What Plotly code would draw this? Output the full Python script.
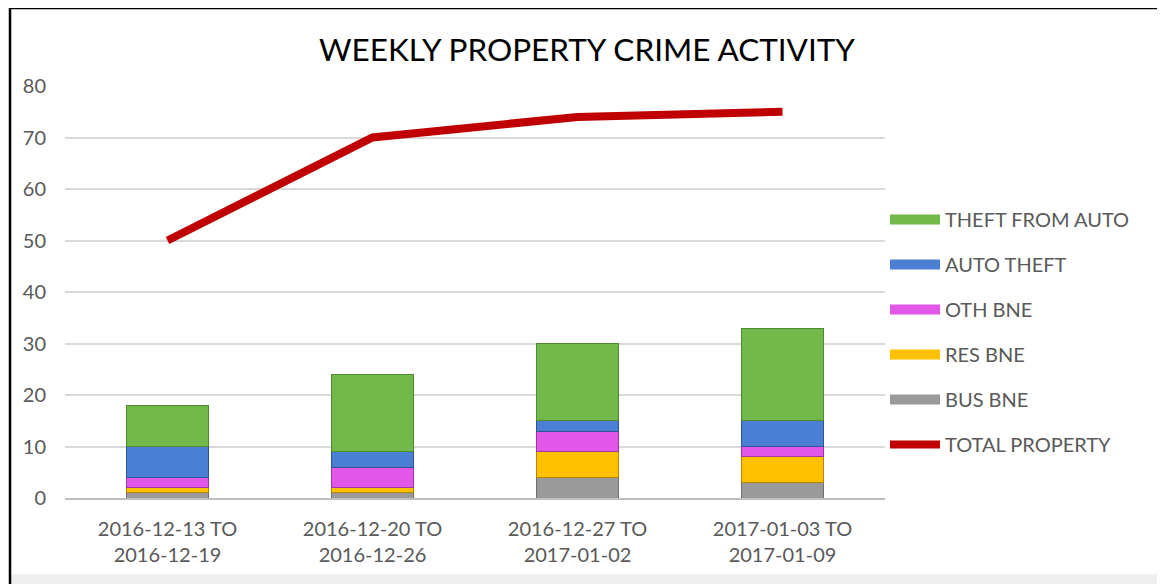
import plotly.graph_objects as go

categories = ["2016-12-13 TO<br>2016-12-19", "2016-12-20 TO<br>2016-12-26",
              "2016-12-27 TO<br>2017-01-02", "2017-01-03 TO<br>2017-01-09"]
bus_bne = [1, 1, 4, 3]
res_bne = [1, 1, 5, 5]
oth_bne = [2, 4, 4, 2]
auto_theft = [6, 3, 2, 5]
theft_from_auto = [8, 15, 15, 18]
total_property = [50, 70, 74, 75]

FONT = "Lato"
GRAY_TXT = "#595959"

# page body has an 8px margin, so the figure is drawn 8px smaller and offset
W, H = 1157, 576
L, R, T, B = 57, 280, 78, 86
PW, PH = W - L - R, H - T - B


def px(x):
    return (x - 8 - L) / PW


def py(y):
    return (H - B - (y - 8)) / PH


fig = go.Figure()
bars = [
    ("BUS BNE", bus_bne, "#9A9A9A", "#6E6E6E", 5),
    ("RES BNE", res_bne, "#FFC000", "#B38600", 4),
    ("OTH BNE", oth_bne, "#E257E8", "#9C3AA2", 3),
    ("AUTO THEFT", auto_theft, "#4A7FD4", "#2F5597", 2),
    ("THEFT FROM AUTO", theft_from_auto, "#72B84A", "#4E8A2E", 1),
]
for name, vals, col, edge, rank in bars:
    fig.add_trace(go.Bar(
        x=categories, y=vals, name=name,
        marker=dict(color=col, line=dict(color=edge, width=1)),
        showlegend=False, width=0.4,
    ))
for name, vals, col, edge, rank in bars:
    fig.add_trace(go.Scatter(
        x=[None], y=[None], name=name, mode="lines",
        line=dict(color=col, width=11), legendrank=rank, legendgroup=name,
    ))
fig.add_trace(go.Scatter(
    x=categories, y=total_property, name="TOTAL PROPERTY", mode="lines",
    line=dict(color="#C00000", width=8), legendrank=6, legendgroup="total",
))

fig.update_layout(
    width=W, height=H,
    barmode="stack",
    paper_bgcolor="white", plot_bgcolor="white",
    margin=dict(l=L, r=R, t=T, b=B, autoexpand=False),
    font=dict(family=FONT, color=GRAY_TXT, size=20),
    title=dict(text="WEEKLY PROPERTY CRIME ACTIVITY", xref="paper", x=px(587),
               xanchor="center", yref="container", y=1 - (50 - 8) / H,
               yanchor="middle",
               font=dict(family=FONT, size=31.5, color="#000000")),
    legend=dict(x=1.0, xanchor="left", y=py(200), yanchor="top",
                font=dict(family=FONT, size=20, color=GRAY_TXT),
                tracegroupgap=16, itemwidth=50, bgcolor="rgba(0,0,0,0)"),
    showlegend=True,
)
fig.update_yaxes(range=[0, 80], dtick=10, showgrid=True, gridcolor="#D9D9D9",
                 gridwidth=1.5, zeroline=False, ticks="", ticklabelstandoff=18,
                 tickfont=dict(size=20, color=GRAY_TXT), fixedrange=True)
fig.update_xaxes(showline=True, linecolor="#BFBFBF", linewidth=1.5,
                 tickfont=dict(size=20, color=GRAY_TXT), ticklabelstandoff=12)

# outer frame and shadow
fig.add_shape(type="rect", xref="paper", yref="paper",
              x0=px(1160), x1=px(1166), y0=py(600), y1=py(10),
              fillcolor="#A8A8A8", line=dict(width=0), layer="below")
fig.add_shape(type="rect", xref="paper", yref="paper",
              x0=px(10), x1=px(1160), y0=py(574), y1=py(600),
              fillcolor="#EFEFEF", line=dict(width=0), layer="below")
fig.add_shape(type="rect", xref="paper", yref="paper",
              x0=px(10), x1=px(1160), y0=py(620), y1=py(8),
              fillcolor="rgba(0,0,0,0)", line=dict(color="black", width=2.5))

fig.write_html("out.html")
